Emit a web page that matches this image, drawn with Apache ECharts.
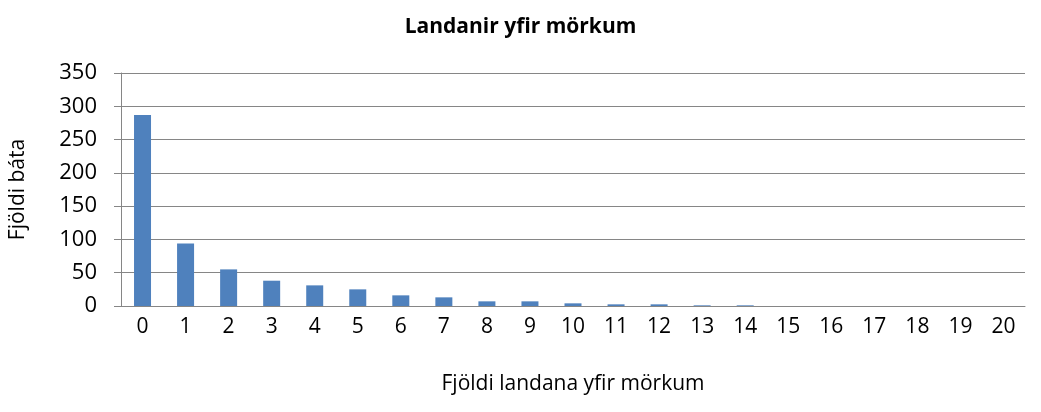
<!DOCTYPE html>
<html><head><meta charset="utf-8">
<script src="https://cdn.jsdelivr.net/npm/echarts@6/dist/echarts.min.js"></script>
<style>html,body{margin:0;padding:0;background:#fff}#c{width:1041px;height:412px}</style>
</head><body><div id="c"></div>
<script>
const categories = ['0','1','2','3','4','5','6','7','8','9','10','11','12','13','14','15','16','17','18','19','20'];
const values = [287, 94, 55, 38, 31, 25, 16, 13, 7, 7, 4, 2.5, 2.5, 1, 1, 0, 0, 0, 0, 0, 0];
const yTicks = [0, 50, 100, 150, 200, 250, 300, 350];
const titleText = 'Landanir yfir mörkum';
const xName = 'Fjöldi landana yfir mörkum';
const yName = 'Fjöldi báta';

const font = '"Open Sans", Lato, sans-serif';
const chart = echarts.init(document.getElementById('c'));
chart.setOption({
  animation: false,
  title: { text: titleText, left: 'center', top: 12,
    textStyle: { fontFamily: font, fontSize: 21, fontWeight: 'bold', color: '#000' } },
  grid: { left: 121, right: 16, top: 73, bottom: 106 },
  xAxis: {
    type: 'category', data: categories,
    name: xName, nameLocation: 'middle', nameGap: 68,
    nameTextStyle: { fontFamily: font, fontSize: 21, color: '#000' },
    axisLine: { lineStyle: { color: '#868686', width: 1 } },
    axisTick: { show: false },
    axisLabel: { fontFamily: font, fontSize: 21, color: '#000', margin: 11, interval: 0 }
  },
  yAxis: {
    type: 'value', min: yTicks[0], max: yTicks[yTicks.length - 1], interval: 50,
    name: yName, nameLocation: 'middle', nameGap: 92, nameRotate: 90,
    nameTextStyle: { fontFamily: font, fontSize: 21, color: '#000' },
    axisLine: { show: true, lineStyle: { color: '#868686', width: 1 } },
    axisTick: { show: true, length: 7, lineStyle: { color: '#868686' } },
    axisLabel: { fontFamily: font, fontSize: 22, color: '#000', margin: 24 },
    splitLine: { lineStyle: { color: '#868686', width: 1 } }
  },
  series: [{
    type: 'bar', data: values, barWidth: 17,
    itemStyle: { color: '#4F81BD' }
  }]
});
</script></body></html>
